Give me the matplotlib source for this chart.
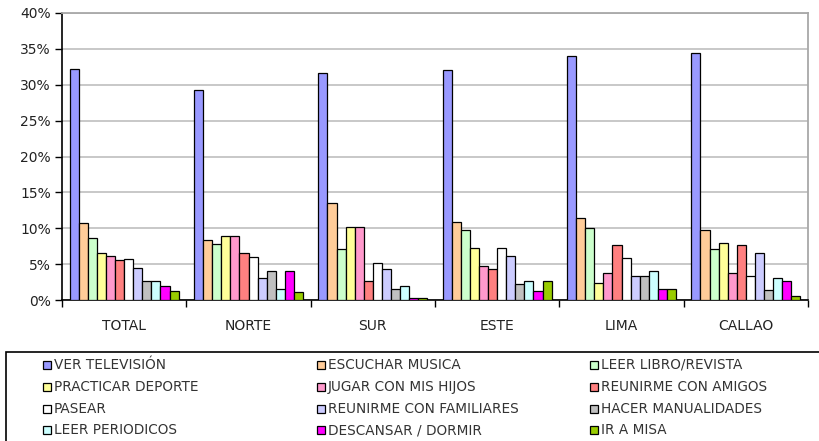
import numpy as np
import matplotlib.pyplot as plt
from matplotlib.patches import Rectangle
from matplotlib.ticker import FuncFormatter

zonas = ['TOTAL', 'NORTE', 'SUR', 'ESTE', 'LIMA', 'CALLAO']

actividades = ['VER TELEVISIÓN', 'ESCUCHAR MUSICA', 'LEER LIBRO/REVISTA',
               'PRACTICAR DEPORTE', 'JUGAR CON MIS HIJOS', 'REUNIRME CON AMIGOS',
               'PASEAR', 'REUNIRME CON FAMILIARES', 'HACER MANUALIDADES',
               'LEER PERIODICOS', 'DESCANSAR / DORMIR', 'IR A MISA']

colores = ['#9999FF', '#FFCC99', '#CCFFCC', '#FFFF99', '#FF99CC', '#FF8080',
           '#FFFFFF', '#CCCCFF', '#C0C0C0', '#CCFFFF', '#FF00FF', '#99CC00']

# porcentaje por actividad, en el orden de zonas
ver_television = [32.2, 29.3, 31.6, 32.0, 34.0, 34.4]
escuchar_musica = [10.8, 8.4, 13.5, 10.9, 11.4, 9.8]
leer_libro = [8.7, 7.8, 7.1, 9.8, 10.0, 7.1]
practicar_deporte = [6.5, 8.9, 10.2, 7.3, 2.4, 7.9]
jugar_hijos = [6.2, 8.9, 10.2, 4.7, 3.8, 3.8]
reunirme_amigos = [5.6, 6.5, 2.7, 4.3, 7.6, 7.6]
pasear = [5.7, 6.0, 5.1, 7.3, 5.8, 3.3]
reunirme_familiares = [4.4, 3.0, 4.3, 6.2, 3.3, 6.5]
hacer_manualidades = [2.7, 4.0, 1.6, 2.2, 3.3, 1.4]
leer_periodicos = [2.7, 1.6, 2.0, 2.7, 4.1, 3.0]
descansar = [2.0, 4.0, 0.3, 1.3, 1.5, 2.7]
ir_a_misa = [1.3, 1.1, 0.3, 2.7, 1.6, 0.6]

series = [ver_television, escuchar_musica, leer_libro, practicar_deporte,
          jugar_hijos, reunirme_amigos, pasear, reunirme_familiares,
          hacer_manualidades, leer_periodicos, descansar, ir_a_misa]

W, H = 819, 441
fig = plt.figure(figsize=(W / 100, H / 100), dpi=100)
ax = fig.add_axes([62 / W, (H - 300) / H, (808 - 62) / W, (300 - 13) / H])

n = len(series)
ancho = 1 / (n + 1.7)
x = np.arange(len(zonas))
for i, (vals, col) in enumerate(zip(series, colores)):
    ax.bar(x + (i - (n - 1) / 2) * ancho, vals, width=ancho, color=col,
           edgecolor='black', linewidth=0.9, zorder=3)

ax.set_xlim(-0.5, len(zonas) - 0.5)
ax.set_ylim(0, 40)
ax.set_yticks(np.arange(0, 41, 5))
ax.yaxis.set_major_formatter(FuncFormatter(lambda v, _: f'{v:.0f}%'))
ax.yaxis.grid(True, color='#c4c4c4', linewidth=1.3, zorder=0)

ax.set_xticks(x)
ax.set_xticklabels(zonas)
ax.set_xticks(np.arange(-0.5, len(zonas)), minor=True)
ax.tick_params(axis='x', which='major', length=0, pad=13.5, labelsize=10,
               labelcolor='#222222')
ax.tick_params(axis='x', which='minor', length=5, width=1, direction='out')
ax.tick_params(axis='y', length=5, width=1, direction='out', pad=3,
               labelsize=10, labelcolor='#222222')

for lado in ['top', 'right']:
    ax.spines[lado].set_color('#a8a8a8')
    ax.spines[lado].set_linewidth(1.3)
for lado in ['left', 'bottom']:
    ax.spines[lado].set_color('black')
    ax.spines[lado].set_linewidth(1.2)

# recuadro de la leyenda, sale por el borde derecho e inferior
fig.patches.append(Rectangle((6 / W, -0.2), 1.2, (H - 352) / H + 0.2,
                             transform=fig.transFigure, facecolor='white',
                             edgecolor='black', linewidth=1.2))

col_x = [43, 317, 590]
fila_y = [365, 387, 409, 430]
for i, (nombre, col) in enumerate(zip(actividades, colores)):
    fila, c = divmod(i, 3)
    x0, y0 = col_x[c], fila_y[fila]
    fig.patches.append(Rectangle((x0 / W, (H - y0 - 4) / H), 8 / W, 8 / H,
                                 transform=fig.transFigure, facecolor=col,
                                 edgecolor='black', linewidth=0.9))
    fig.text((x0 + 11) / W, (H - y0) / H, nombre, fontsize=9.8,
             color='#333333', va='center', ha='left')

fig.savefig('out.png', dpi=100)
